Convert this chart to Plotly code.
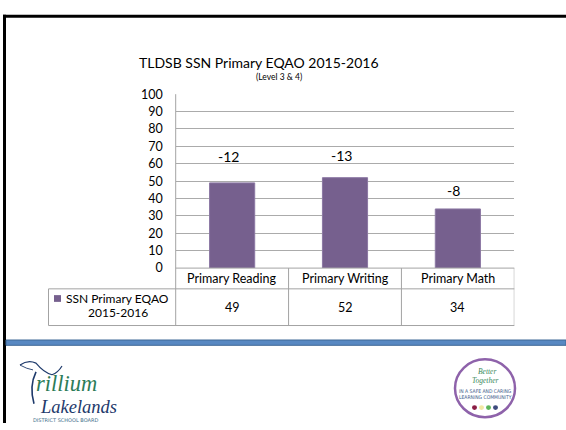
import plotly.graph_objects as go

# ---------------- data ----------------
categories = ["Primary Reading", "Primary Writing", "Primary Math"]
values = [49, 52, 34]
change_labels = ["-12", "-13", "-8"]
series_name_lines = ["SSN Primary EQAO", "2015-2016"]
y_ticks = [0, 10, 20, 30, 40, 50, 60, 70, 80, 90, 100]
title_text = "TLDSB SSN Primary EQAO 2015-2016"
subtitle_text = "(Level 3 & 4)"

# ---------------- layout constants (pixels) ----------------
W, H = 566, 430
PL, PR = 175.7, 514.3      # plot area left / right
PT, PB = 89.3, 269.5       # plot area top / bottom (value 100 / 0)
ROW1_B = 291.0             # bottom of category row
ROW2_B = 329.0             # bottom of value row
LEG_L = 48.5               # left of legend cell
LABEL_Y = [64, 64.5, 44.6] # where the change labels sit (axis units)

FONT = "Lato"
BAR_COLOR = "#76608E"
GRID = "#ABABAB"
TABLE = "#A3A3A3"

fig = go.Figure()
fig.add_trace(go.Bar(
    x=categories, y=values, width=0.4,
    marker=dict(color=BAR_COLOR, line=dict(color="#8C78A4", width=1)),
    hoverinfo="skip", showlegend=False,
))
# invisible full-page axes in pixel space for decoration
fig.add_trace(go.Scatter(x=[0], y=[0], xaxis="x2", yaxis="y2",
                         mode="markers", marker=dict(opacity=0),
                         hoverinfo="skip", showlegend=False))

shapes = []
ann = []

def px_line(x0, y0, x1, y1, color=TABLE, width=1, xref="x2", yref="y2"):
    shapes.append(dict(type="line", x0=x0, y0=y0, x1=x1, y1=y1, xref=xref, yref=yref,
                       line=dict(color=color, width=width), layer="above"))

# --- data table ---
px_line(PL, PB, PR, PB)
px_line(LEG_L, ROW1_B, PR, ROW1_B)
px_line(LEG_L, ROW2_B, PR, ROW2_B)
px_line(LEG_L, ROW1_B, LEG_L, ROW2_B)
px_line(PL, PT, PL, ROW2_B)
for i in range(1, len(categories) + 1):
    px_line(i - 0.5, PB, i - 0.5, ROW2_B, xref="x")

for i, (c, v) in enumerate(zip(categories, values)):
    ann.append(dict(x=c, y=(PB + ROW1_B) / 2 + 0.5, xref="x", yref="y2", text=c,
                    showarrow=False, font=dict(family=FONT, size=12.5, color="#000")))
    ann.append(dict(x=c, y=(ROW1_B + ROW2_B) / 2, xref="x", yref="y2", text=str(v),
                    showarrow=False, font=dict(family=FONT, size=12.5, color="#000")))

# change labels above bars
for i, (c, lab) in enumerate(zip(categories, change_labels)):
    ann.append(dict(x=c, y=LABEL_Y[i], xref="x", yref="y", text=lab, xshift=-4,
                    showarrow=False, font=dict(family=FONT, size=14, color="#000")))

# legend cell
shapes.append(dict(type="rect", x0=54, x1=61, y0=297.5, y1=304.5, xref="x2", yref="y2",
                   fillcolor=BAR_COLOR, line=dict(width=0)))
ann.append(dict(x=64, y=301, xref="x2", yref="y2", text=series_name_lines[0], xanchor="left",
                showarrow=False, font=dict(family=FONT, size=12, color="#000")))
ann.append(dict(x=117.5, y=315, xref="x2", yref="y2", text=series_name_lines[1],
                showarrow=False, font=dict(family=FONT, size=12, color="#000")))

# titles
ann.append(dict(x=258.5, y=56.5, xref="x2", yref="y2", text=title_text, showarrow=False,
                font=dict(family=FONT, size=14, color="#000")))
ann.append(dict(x=279, y=71, xref="x2", yref="y2", text=subtitle_text, showarrow=False,
                font=dict(family=FONT, size=8.5, color="#000")))

# --- slide frame ---
shapes.append(dict(type="rect", x0=3, x1=W, y0=7, y1=10, xref="x2", yref="y2",
                   fillcolor="#000", line=dict(width=0)))
shapes.append(dict(type="rect", x0=3, x1=6, y0=7, y1=H, xref="x2", yref="y2",
                   fillcolor="#000", line=dict(width=0)))
shapes.append(dict(type="rect", x0=6, x1=W, y0=344, y1=349.5, xref="x2", yref="y2",
                   fillcolor="#5888C2", line=dict(color="#3F6896", width=1)))

# --- Trillium Lakelands logo ---
shapes.append(dict(type="path", xref="x2", yref="y2",
                   path="M 20 370 Q 28 364 36 368 Q 44 378 52 380 Q 58 378 62 371",
                   line=dict(color="#1E3A6B", width=1.2)))
shapes.append(dict(type="path", xref="x2", yref="y2",
                   path="M 20 370 Q 27 374 33 375",
                   line=dict(color="#1E3A6B", width=0.9)))
shapes.append(dict(type="path", xref="x2", yref="y2",
                   path="M 36 377 Q 29 392 34 410",
                   line=dict(color="#1E3A6B", width=1.6)))
ann.append(dict(x=34, y=389, xref="x2", yref="y2", text="<i>rillium</i>", xanchor="left",
                showarrow=False, font=dict(family="Liberation Serif", size=22.5, color="#2C7C58")))
ann.append(dict(x=38, y=413, xref="x2", yref="y2", text="<i>Lakelands</i>", xanchor="left",
                showarrow=False, font=dict(family="Liberation Serif", size=18.5, color="#1E3A6B")))
ann.append(dict(x=31, y=427, xref="x2", yref="y2", text="DISTRICT SCHOOL BOARD", xanchor="left",
                showarrow=False, font=dict(family="DejaVu Sans", size=5, color="#3E6E8A")))

# --- Better Together logo ---
cx, cy, r = 485, 394, 30
shapes.append(dict(type="circle", xref="x2", yref="y2", x0=cx - r, x1=cx + r, y0=cy - r, y1=cy + r,
                   line=dict(color="#8E62AA", width=2.5), fillcolor="white"))
ann.append(dict(x=cx + 2, y=cy - 17.5, xref="x2", yref="y2", text="<i>Better</i>", showarrow=False,
                font=dict(family="Liberation Serif", size=7.5, color="#3A8A5C")))
ann.append(dict(x=cx, y=cy - 8, xref="x2", yref="y2", text="<i>Together</i>", showarrow=False,
                font=dict(family="Liberation Serif", size=7.5, color="#3A8A5C")))
ann.append(dict(x=cx, y=cy + 3, xref="x2", yref="y2", text="IN A SAFE AND CARING", showarrow=False,
                font=dict(family="Liberation Sans Narrow, DejaVu Sans Condensed", size=5, color="#3E5A8A")))
ann.append(dict(x=cx, y=cy + 9.5, xref="x2", yref="y2", text="LEARNING COMMUNITY", showarrow=False,
                font=dict(family="Liberation Sans Narrow, DejaVu Sans Condensed", size=5, color="#3E5A8A")))
for k, col in enumerate(["#8B1D45", "#F2E8A4", "#5DB55A", "#3E4B7E"]):
    dx = cx - 10.5 + 7 * k
    shapes.append(dict(type="circle", xref="x2", yref="y2", x0=dx - 2.5, x1=dx + 2.5,
                       y0=cy + 17.5, y1=cy + 22.5, fillcolor=col, line=dict(width=0)))

fig.update_layout(
    width=W, height=H, margin=dict(l=0, r=0, t=0, b=0),
    paper_bgcolor="white", plot_bgcolor="rgba(0,0,0,0)",
    showlegend=False,
    xaxis=dict(domain=[PL / W, PR / W], range=[-0.5, 2.5], showticklabels=False,
               showgrid=False, zeroline=False, showline=False, fixedrange=True, anchor="y"),
    yaxis=dict(domain=[(H - PB) / H, (H - PT) / H], range=[0, 100], tickvals=y_ticks,
               showgrid=True, gridcolor=GRID, gridwidth=1, zeroline=False,
               showline=False, ticks="", ticklabelstandoff=12, anchor="x",
               tickfont=dict(family=FONT, size=12.5, color="#000"), fixedrange=True),
    xaxis2=dict(domain=[0, 1], range=[0, W], visible=False, anchor="y2", fixedrange=True),
    yaxis2=dict(domain=[0, 1], range=[H, 0], visible=False, anchor="x2", fixedrange=True),
    shapes=shapes, annotations=ann,
)

fig.write_html("out.html", config={"displayModeBar": False},
               post_script="document.body.style.margin='0px';document.body.style.overflow='hidden';")
